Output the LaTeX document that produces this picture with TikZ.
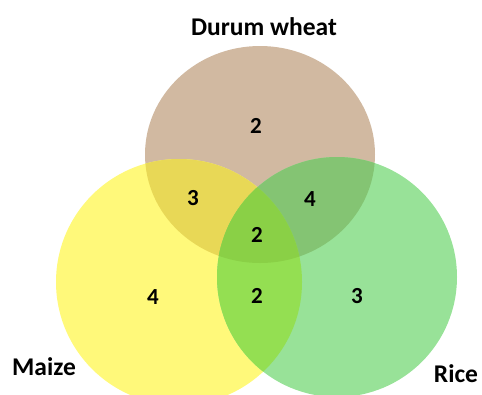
\documentclass[tikz,border=0pt]{standalone}
\usepackage{fontspec}
\setmainfont{Carlito}
\definecolor{cB}{RGB}{209,185,161}
\definecolor{cY}{RGB}{255,249,122}
\definecolor{cG}{RGB}{152,226,152}
\definecolor{cBY}{RGB}{232,216,86}
\definecolor{cBG}{RGB}{132,196,115}
\definecolor{cYG}{RGB}{148,223,82}
\definecolor{cBYG}{RGB}{138,208,70}
\begin{document}
\begin{tikzpicture}[x=1pt,y=-1pt,
  setlabel/.style={anchor=base,inner sep=0pt,font=\fontsize{25.5}{30}\selectfont\bfseries},
  count/.style={anchor=center,inner sep=0pt,font=\fontsize{23}{28}\selectfont\bfseries}]
\useasboundingbox (0,0) rectangle (482,394);
\def\brownpath{(260,154.5) ellipse [x radius=115pt, y radius=108.5pt]}
\def\yellowpath{(179,282) circle [radius=123pt]}
\def\greenpath{(337,277) circle [radius=120pt]}
\path[fill=cB] \brownpath;
\path[fill=cY] \yellowpath;
\path[fill=cG] \greenpath;
\begin{scope}
  \clip \brownpath;
  \path[fill=cBY] \yellowpath;
  \path[fill=cBG] \greenpath;
\end{scope}
\begin{scope}
  \clip \yellowpath;
  \path[fill=cYG] \greenpath;
  \clip \brownpath;
  \path[fill=cBYG] \greenpath;
\end{scope}
\node[setlabel] (durum) at (264,35) {Durum wheat};
\node[setlabel] (maize) at (44,375) {Maize};
\node[setlabel] (rice) at (456,382) {Rice};
\node[count] (nB) at (256,126) {2};
\node[count] (nBY) at (193,198) {3};
\node[count] (nBG) at (310,199) {4};
\node[count] (nBYG) at (257,235) {2};
\node[count] (nY) at (153,297) {4};
\node[count] (nYG) at (257,296) {2};
\node[count] (nG) at (357,296) {3};
\end{tikzpicture}
\end{document}
